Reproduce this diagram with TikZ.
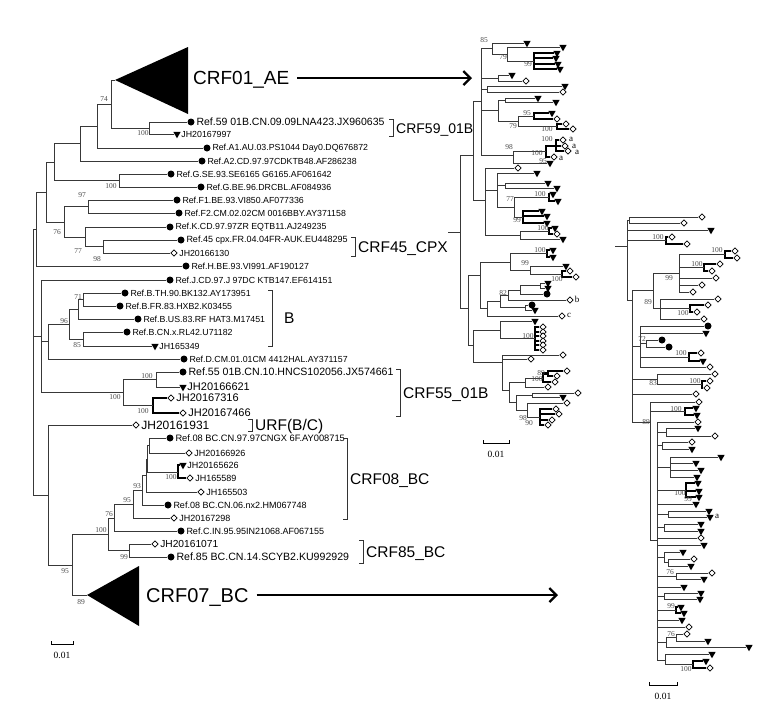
\documentclass[tikz,border=0pt]{standalone}
\usepackage{fontspec}
\setmainfont{Liberation Sans}
\newfontfamily\serifn{Liberation Serif}
\usetikzlibrary{shapes.geometric,positioning,arrows.meta}
\newcounter{bsc}
\newcommand{\IN}[4]{\coordinate (#1) at (#2,#3);\foreach \ch in {#4}{\draw[br] (#1) |- (\ch);}}
\newcommand{\INk}[4]{\coordinate (#1) at (#2,#3);\foreach \ch in {#4}{\draw[brthick] (#1) |- (\ch);}}
\newcommand{\Tp}[3]{\node[tri] (#1) at (#2,#3) {};}
\newcommand{\Dp}[3]{\node[dia] (#1) at (#2,#3) {};}
\newcommand{\Cp}[3]{\node[dot] (#1) at (#2,#3) {};}
\newcommand{\Lab}[3]{\node[lab, right=1.3pt of #1] (#1t) {\fontsize{#2}{#2}\selectfont #3};}
\newcommand{\Lc}[5]{\Cp{#1}{#2}{#3}\Lab{#1}{#4}{#5}}
\newcommand{\Lt}[5]{\Tp{#1}{#2}{#3}\Lab{#1}{#4}{#5}}
\newcommand{\Ld}[5]{\Dp{#1}{#2}{#3}\Lab{#1}{#4}{#5}}
\newcommand{\BS}[3]{\stepcounter{bsc}\node[bs] (bs\arabic{bsc}) at (#1,#2) {#3};}
\newcommand{\Ltr}[3]{\stepcounter{bsc}\node[letr] (lt\arabic{bsc}) at (#1,#2) {#3};}
\newcommand{\Brk}[5]{\draw[brkt] ({#1-4},#2) -- (#1,#2) -- (#1,#3) -- ({#1-4},#3); \node[brlab] (#4) at ({#1+3},{(#2+#3)/2}) {#5};}
\newcommand{\SB}[4]{\draw[sbar] (#1,{#3-3}) -- (#1,#3) -- (#2,#3) -- (#2,{#3-3}); \node[sbl] (#4) at ({(#1+#2)/2},{#3+11}) {0.01};}
\begin{document}
\begin{tikzpicture}[x=1pt,y=-1pt,
  br/.style={line width=0.75pt, draw=black!78},
  brthick/.style={line width=2.2pt, draw=black},
  tri/.style={regular polygon, regular polygon sides=3, shape border rotate=180, fill=black, inner sep=0pt, minimum size=8.5pt},
  dia/.style={diamond, draw=black, fill=white, line width=0.6pt, inner sep=0pt, minimum size=6.5pt},
  dot/.style={circle, fill=black, inner sep=0pt, minimum size=7pt},
  lab/.style={inner sep=0.3pt},
  bs/.style={font=\serifn\fontsize{7.5}{7.5}\selectfont, text=black!70, inner sep=0pt},
  letr/.style={font=\serifn\fontsize{9}{9}\selectfont, inner sep=0pt},
  brkt/.style={line width=0.8pt, draw=black!80},
  brlab/.style={font=\fontsize{15.5}{15.5}\selectfont, anchor=west, inner sep=0pt, text height=11pt, text depth=0pt},
  big/.style={font=\fontsize{19}{19}\selectfont, anchor=west, inner sep=0pt, text height=13.5pt, text depth=0pt},
  bigb/.style={font=\fontsize{20}{20}\selectfont, anchor=west, inner sep=0pt, text height=14pt, text depth=0pt},
  bigarr/.style={line width=2.3pt, -{Straight Barb[length=7pt,width=14pt]}},
  sbar/.style={line width=0.8pt},
  sbl/.style={font=\serifn\fontsize{9.5}{9.5}\selectfont, inner sep=0pt}]
\fill[white] (0,0) rectangle (780,702);
\useasboundingbox (0,0) rectangle (780,702);
% ================= LEFT TREE =================
\Lc{ref59}{191}{122}{10.5}{Ref.59 01B.CN.09.09LNA423.JX960635}
\Lt{jh997}{177}{134}{8.8}{JH20167997}
\Lc{a1}{207}{148}{8.8}{Ref.A1.AU.03.PS1044 Day0.DQ676872}
\Lc{a2}{202}{161}{8.8}{Ref.A2.CD.97.97CDKTB48.AF286238}
\Lc{gse}{171}{174}{8.8}{Ref.G.SE.93.SE6165 G6165.AF061642}
\Lc{gbe}{201}{187}{8.8}{Ref.G.BE.96.DRCBL.AF084936}
\Lc{fa}{177}{200}{8.8}{Ref.F1.BE.93.VI850.AF077336}
\Lc{fb}{179}{213}{8.8}{Ref.F2.CM.02.02CM 0016BBY.AY371158}
\Lc{kk}{170}{227}{8.8}{Ref.K.CD.97.97ZR EQTB11.AJ249235}
\Lc{r45}{181}{240}{9}{Ref.45 cpx.FR.04.04FR-AUK.EU448295}
\Ld{jh130}{174}{253}{8.8}{JH20166130}
\Lc{hh}{186}{266}{8.8}{Ref.H.BE.93.VI991.AF190127}
\Lc{jj}{170}{280}{8.8}{Ref.J.CD.97.J 97DC KTB147.EF614151}
\Lc{bth}{125}{293}{8.8}{Ref.B.TH.90.BK132.AY173951}
\Lc{bfr}{120}{306}{8.8}{Ref.B.FR.83.HXB2.K03455}
\Lc{bus}{138}{319}{8.8}{Ref.B.US.83.RF HAT3.M17451}
\Lc{bcn}{127}{332}{8.8}{Ref.B.CN.x.RL42.U71182}
\Lt{jh349}{155}{346}{8.8}{JH165349}
\Lc{dd}{184}{359}{8.8}{Ref.D.CM.01.01CM 4412HAL.AY371157}
\Lc{r55}{183}{372}{10.6}{Ref.55 01B.CN.10.HNCS102056.JX574661}
\Lt{jh621}{183}{387}{11}{JH20166621}
\Ld{jh316}{171}{398}{11}{JH20167316}
\Ld{jh466}{183}{413}{11}{JH20167466}
\Ld{jh931}{136}{425}{12}{JH20161931}
\Lc{r08a}{170}{438}{9.3}{Ref.08 BC.CN.97.97CNGX 6F.AY008715}
\Ld{jh926}{189}{453}{9}{JH20166926}
\Lt{jh626}{183}{465}{9}{JH20165626}
\Ld{jh589}{190}{478}{9}{JH165589}
\Ld{jh503}{201}{492}{9}{JH165503}
\Lc{r08b}{168}{505}{9}{Ref.08 BC.CN.06.nx2.HM067748}
\Ld{jh298}{174}{518}{9}{JH20167298}
\Lc{cin}{181}{531}{9}{Ref.C.IN.95.95IN21068.AF067155}
\Ld{jh071}{155}{544}{10.2}{JH20161071}
\Lc{r85}{171}{557}{10.6}{Ref.85 BC.CN.14.SCYB2.KU992929}
\IN{n59}{149}{128}{ref59,jh997}
\coordinate (t1) at (115,80); \coordinate (t1a) at (188,47); \coordinate (t1b) at (188,114);
\fill (t1) -- (t1a) -- (t1b) -- cycle;
\IN{n74}{111}{104}{t1,n59}
\IN{na1}{97}{126}{n74,a1}
\IN{na2}{80}{143.5}{na1,a2}
\IN{ng}{119}{180.5}{gse,gbe}
\IN{n54}{54}{162}{na2,ng}
\IN{nf}{88}{206.5}{fa,fb}
\IN{n98}{103}{246.5}{r45,jh130}
\IN{n77}{85}{237}{kk,n98}
\IN{n76}{64}{222}{nf,n77}
\IN{n1}{46}{192}{n54,n76}
\IN{n2}{36}{229}{n1,hh}
\IN{n71}{83}{299.5}{bth,bfr}
\IN{n78}{78}{309}{n71,bus}
\IN{n85}{83}{339}{bcn,jh349}
\IN{n96}{69}{324}{n78,n85}
\IN{nbd}{48}{341.5}{n96,dd}
\IN{n55a}{156}{379.5}{r55,jh621}
\INk{n55b}{153}{405.5}{jh316,jh466}
\IN{n55}{123}{392.5}{n55a,n55b}
\IN{nmid}{41}{336}{jj,nbd,n55}
\IN{nA}{149}{445.5}{r08a,jh926}
\INk{nth}{178}{472}{jh626,jh589}
\IN{nB}{147}{459}{nA,nth}
\IN{nX}{146}{475}{nB,jh503}
\IN{n93}{142}{490}{nX,r08b}
\IN{n95b}{133}{504}{n93,jh298}
\IN{n76b}{114}{518}{n95b,cin}
\IN{n85b}{129}{550.5}{jh071,r85}
\IN{n100}{108}{534}{n76b,n85b}
\coordinate (t2) at (87,595); \coordinate (t2a) at (139,566); \coordinate (t2b) at (139,626);
\fill (t2) -- (t2a) -- (t2b) -- cycle;
\IN{n95}{72}{565}{n100,t2}
\IN{nlow}{48}{495}{jh931,n95}
\IN{lroot}{33}{420}{n2,nmid,nlow}
% bootstrap left
\BS{104}{99}{74}\BS{143}{133}{100}\BS{111}{186}{100}\BS{82}{195}{97}
\BS{57}{232}{76}\BS{78}{251}{77}\BS{97}{259}{98}\BS{78}{297}{71}
\BS{64}{321}{96}\BS{77}{345}{85}\BS{147}{376}{100}\BS{115}{397}{100}
\BS{143}{411}{100}\BS{171}{477}{100}\BS{137}{486}{93}\BS{127}{500}{95}
\BS{109}{514}{76}\BS{101}{530}{100}\BS{124}{557}{99}\BS{65}{571}{95}\BS{81}{602}{89}
% brackets
\Brk{393}{119}{136}{lb59}{\fontsize{14}{14}\selectfont CRF59\_01B}
\Brk{355}{237}{256}{lb45}{CRF45\_CPX}
\Brk{272}{290}{346}{lbB}{\hspace*{9pt}B}
\Brk{400}{369}{416}{lb55}{CRF55\_01B}
\Brk{252}{419}{431}{lburf}{URF(B/C)}
\Brk{347}{438}{519}{lb08}{CRF08\_BC}
\Brk{363}{540}{563}{lb85}{CRF85\_BC}
% big labels and arrows
\node[big] (crf01) at (193,78) {CRF01\_AE};
\coordinate (a1e) at (472,78);
\draw[bigarr, shorten <=8pt] (crf01) -- (a1e);
\node[bigb] (crf07) at (146,595) {CRF07\_BC};
\coordinate (a2e) at (558,595);
\draw[bigarr, shorten <=8pt] (crf07) -- (a2e);
\SB{51}{73}{644}{sbl1}
% ================= MIDDLE TREE =================
\Tp{m1}{527}{43}\Tp{m2}{563}{47}\Tp{m3}{557}{53}\Tp{m4}{556}{58}\Tp{m5}{558}{64}\Tp{m6}{560}{69}
\Tp{m7}{512}{75}\Dp{m8}{526}{81}\Tp{m9}{565}{86}\Dp{m10}{563}{92}\Tp{m11}{538}{98}\Tp{m12}{556}{102}
\Tp{m13}{552}{113}\Dp{m14}{557}{119}\Dp{m15}{566}{124}\Dp{m16}{573}{129}
\Dp{m17}{563}{140}\Dp{m18}{565}{146}\Dp{m19}{568}{151}\Dp{m20}{554}{157}\Tp{m21}{550}{163}
\Dp{m22}{518}{168}\Tp{m23}{537}{173}\Tp{m24}{548}{183}\Tp{m25}{557}{188}\Tp{m26}{553}{194}\Tp{m27}{558}{201}
\Tp{m28}{542}{211}\Tp{m29}{547}{216}\Tp{m30}{547}{223}\Tp{m31}{555}{228}\Dp{m32}{557}{234}\Tp{m33}{563}{239}
\Tp{m34}{553}{250}\Tp{m35}{553}{257}\Tp{m36}{566}{266}\Dp{m37}{570}{271}\Dp{m38}{576}{277}
\Tp{m39}{548}{283}\Tp{m40}{548}{288}\Cp{m41}{547}{294}\Dp{m42}{570}{300}\Cp{m43}{532}{305}\Tp{m44}{535}{310}
\Dp{m45}{562}{316}\Tp{m46}{535}{321}
\Dp{m47}{543}{327}\Dp{m48}{543}{332}\Dp{m49}{543}{336}\Dp{m50}{543}{341}\Dp{m51}{543}{345}\Dp{m52}{543}{350}
\Dp{m53}{563}{355}\Dp{m54}{531}{359}\Dp{m55}{567}{371}\Dp{m56}{557}{376}\Dp{m57}{555}{382}\Dp{m58}{548}{387}
\Dp{m59}{578}{393}\Tp{m60}{563}{397}\Dp{m61}{567}{403}\Dp{m62}{556}{409}\Dp{m63}{559}{414}\Dp{m64}{552}{420}\Dp{m65}{548}{425}
\INk{mA}{534}{61}{m3,m4,m5,m6}
\IN{mB}{507}{54}{m2,mA}
\IN{mC}{492}{48}{m1,mB}
\IN{mD}{498}{78}{m7,m8}
\IN{mE}{487}{89}{m9,m10}
\IN{mF}{505}{100}{m11,m12}
\INk{mG}{534}{116}{m13,m14}
\INk{mH}{557}{126.5}{m15,m16}
\IN{mI}{518}{121}{mG,mH}
\IN{mJ}{498}{110}{mF,mI}
\INk{mK}{556}{146}{m17,m18,m19}
\INk{mL}{546}{151.5}{mK,m20}
\IN{mM}{513}{155}{mL,m21}
\IN{mN}{481}{101}{mC,mD,mE,mJ,mM}
\INk{p1}{549}{197.5}{m26,m27}
\INk{p2}{523}{217}{m28,m29,m30}
\IN{p3}{514}{207}{p1,p2}
\IN{p4}{505}{185.5}{m24,m25}
\IN{p5}{497}{190}{m23,p4,p3}
\INk{p6}{549}{231}{m31,m32}
\IN{p7}{520}{235}{p6,m33}
\IN{nP}{485}{200}{m22,p5,p7}
\IN{U}{473}{155}{mN,nP}
\INk{p8}{547}{253.5}{m34,m35}
\INk{p9}{562}{274}{m37,m38}
\IN{p10}{530}{270}{m36,p9}
\IN{p11}{510}{262}{p8,p10}
\IN{q1}{540}{285.5}{m39,m40}
\IN{q2}{520}{290}{q1,m41}
\IN{q3}{508}{295}{q2,m42}
\IN{q4}{525}{307.5}{m43,m44}
\IN{q5}{500}{301}{q3,q4}
\IN{q6}{487}{308}{q5,m45}
\IN{nS}{480}{275}{p11,q6}
\INk{q7}{535}{338}{m47,m48,m49,m50,m51,m52}
\IN{q8}{500}{330}{m46,q7}
\INk{r1}{548}{373.5}{m55,m56}
\INk{r2}{543}{378}{r1,m57}
\IN{r3}{525}{382}{r2,m58}
\INk{r6}{540}{417}{m62,m63,m64,m65}
\IN{r8}{527}{410}{m61,r6}
\IN{r9}{532}{395}{m59,m60}
\IN{r10}{516}{402}{r9,r8}
\IN{r11}{509}{390}{r3,r10}
\IN{r12}{502}{362}{m53,m54,r11}
\IN{nT}{473}{345}{q8,r12}
\IN{L}{468}{308}{nS,nT}
\IN{mroot}{460}{232}{U,L}
\coordinate (mstub) at (448,232); \draw[br] (mstub) -- (mroot);
\BS{484}{40}{85}\BS{503}{57}{79}\BS{528}{64}{99}\BS{527}{113}{95}\BS{513}{126}{79}
\BS{547}{129}{100}\BS{509}{147}{98}\BS{547}{139}{100}\BS{537}{153}{100}\BS{543}{161}{95}
\BS{540}{194}{100}\BS{510}{199}{77}\BS{517}{220}{99}\BS{543}{228}{100}\BS{540}{250}{100}
\BS{525}{263}{99}\BS{557}{279}{100}\BS{503}{293}{82}\BS{528}{336}{100}\BS{541}{373}{89}
\BS{537}{379}{100}\BS{523}{418}{98}\BS{529}{423}{90}
\Ltr{571}{139}{a}\Ltr{574}{146}{a}\Ltr{577}{152}{a}\Ltr{561}{158}{a}
\Ltr{577}{299}{b}\Ltr{569}{315}{c}
\SB{483}{509}{443}{sbl2}
% ================= RIGHT TREE =================
\Dp{s1}{702}{217}\Dp{s2}{684}{223}\Tp{s3}{711}{230}\Dp{s4}{672}{237}\Dp{s5}{687}{244}
\Dp{s6}{735}{251}\Dp{s7}{737}{258}\Dp{s8}{720}{264}\Dp{s9}{712}{271}\Dp{s10}{716}{278}
\Dp{s11}{702}{285}\Dp{s12}{693}{292}\Dp{s13}{718}{299}\Dp{s14}{708}{305}\Dp{s15}{697}{312}
\Dp{s16}{704}{319}\Cp{s17}{708}{326}\Tp{s18}{706}{333}\Cp{s19}{662}{340}\Cp{s20}{669}{347}
\Dp{s21}{701}{353}\Tp{s22}{703}{361}\Dp{s23}{710}{367}\Dp{s24}{715}{374}\Dp{s25}{710}{381}
\Dp{s26}{707}{388}\Dp{s27}{696}{394}\Dp{s28}{699}{402}\Tp{s29}{696}{408}\Tp{s30}{697}{415}
\Dp{s31}{698}{422}\Tp{s32}{698}{428}\Dp{s33}{715}{436}\Dp{s34}{692}{442}\Tp{s35}{692}{449}
\Tp{s36}{721}{457}\Tp{s37}{696}{463}\Tp{s38}{701}{470}\Tp{s39}{697}{477}\Tp{s40}{698}{483}
\Tp{s41}{699}{491}\Tp{s42}{699}{497}\Tp{s43}{696}{504}\Tp{s44}{709}{511}\Tp{s45}{710}{517}
\Tp{s46}{701}{524}\Tp{s47}{701}{531}\Dp{s48}{701}{538}\Tp{s49}{704}{545}\Tp{s50}{683}{552}
\Dp{s51}{694}{559}\Tp{s52}{691}{566}\Dp{s53}{712}{573}\Tp{s54}{704}{579}\Tp{s55}{684}{587}
\Tp{s56}{701}{593}\Tp{s57}{700}{599}\Tp{s58}{681}{607}\Tp{s59}{684}{613}\Tp{s60}{682}{620}
\Dp{s61}{689}{627}\Dp{s62}{687}{634}\Tp{s63}{708}{641}\Tp{s64}{749}{647}\Tp{s65}{712}{654}
\Tp{s66}{706}{661}\Dp{s67}{710}{668}
\IN{ra}{629}{220}{s1,s2}
\INk{rb}{666}{240.5}{s4,s5}
\INk{c100b}{725}{254.5}{s6,s7}
\INk{c100a}{704}{267.5}{s8,s9}
\IN{c99}{679}{273}{c100b,c100a,s10,s11,s12}
\INk{c100c}{690}{308.5}{s14,s15}
\IN{cx}{660}{308}{s13,c100c,s16}
\IN{c89}{653}{290}{c99,cx}
\IN{c72}{646}{343.5}{s19,s20}
\INk{c100d}{689}{357}{s21,s22}
\IN{cy}{640}{346}{s17,s18,c72,c100d,s23}
\INk{c100e}{702}{384.5}{s25,s26}
\IN{c83}{657}{379}{s24,c100e}
\INk{c100f}{685}{411.5}{s29,s30}
\IN{g1}{666}{432}{s32,s33}
\IN{g2}{662}{445.5}{s34,s35}
\IN{g3}{670}{467}{s36,s37,s38,s39}
\INk{g4}{686}{490}{s40,s41,s42}
\IN{g6}{668}{514}{s44,s45}
\IN{g7}{664}{527.5}{s46,s47}
\IN{g9}{668}{562.5}{s51,s52}
\IN{g8}{664}{557}{s50,g9}
\IN{g10}{676}{576}{s53,s54}
\IN{g11}{664}{596}{s56,s57}
\INk{g12}{676}{610}{s58,s59}
\IN{g14}{676}{637.5}{s62,s63}
\IN{g13}{666}{642}{g14,s64}
\INk{g16}{693}{664.5}{s66,s67}
\IN{g15}{665}{660}{s65,g16}
\IN{nlowr}{657}{540}{s31,g1,g2,g3,g4,s43,g6,g7,s48,s49,g8,g10,s55,g11,g12,s60,s61,g13,g15}
\IN{c89b}{650}{422}{s28,c100f,nlowr}
\IN{rbig}{632}{300}{c89,cy,c83,s27,c89b}
\IN{rroot}{627}{246}{ra,s3,rb,rbig}
\coordinate (rstub) at (615,246); \draw[br] (rstub) -- (rroot);
\BS{658}{237}{100}\BS{717}{250}{100}\BS{697}{264}{100}\BS{669}{278}{99}\BS{648}{302}{89}
\BS{683}{313}{100}\BS{642}{339}{72}\BS{681}{353}{100}\BS{653}{383}{83}\BS{695}{381}{100}
\BS{676}{409}{100}\BS{646}{422}{89}\BS{680}{493}{100}\BS{688}{499}{99}\BS{670}{572}{76}
\BS{671}{606}{99}\BS{671}{634}{76}\BS{686}{669}{100}
\Ltr{717}{516}{a}
\SB{649}{677}{685}{sbl3}
\end{tikzpicture}
\end{document}
